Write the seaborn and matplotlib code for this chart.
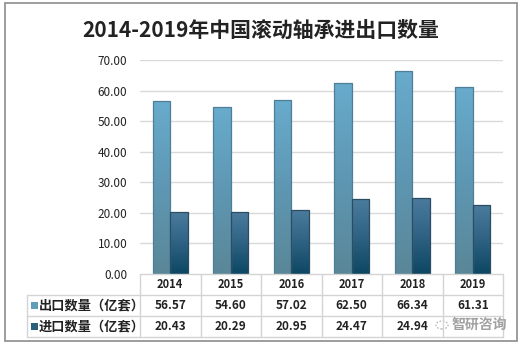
import numpy as np
import pandas as pd
import matplotlib
matplotlib.use("Agg")
import matplotlib.pyplot as plt
import seaborn as sns
from matplotlib.lines import Line2D
from matplotlib.patches import Rectangle, Circle
from matplotlib.colors import LinearSegmentedColormap

years = ["2014", "2015", "2016", "2017", "2018", "2019"]
export_vals = [56.57, 54.60, 57.02, 62.50, 66.34, 61.31]
import_vals = [20.43, 20.29, 20.95, 24.47, 24.94, 22.62]
series_names = ["出口数量（亿套）", "进口数量（亿套）"]
yticks = [0, 10, 20, 30, 40, 50, 60, 70]
title = "2014-2019年中国滚动轴承进出口数量"
watermark = "智研咨询"

sns.set_theme(style="white")
plt.rcParams['font.family'] = ['Noto Sans CJK SC', 'DejaVu Sans']

W, H = 522, 345
fig = plt.figure(figsize=(W / 100, H / 100), dpi=100)

def fx(x):
    return x / W

def fy(y):
    return 1 - y / H

ax_l, ax_r, ax_t, ax_b = 140, 503, 60, 274
ax = fig.add_axes([fx(ax_l), fy(ax_b), fx(ax_r) - fx(ax_l), fy(ax_t) - fy(ax_b)])

df = pd.DataFrame({
    "year": years * 2,
    "value": export_vals + import_vals,
    "series": [series_names[0]] * 6 + [series_names[1]] * 6,
})

sns.barplot(data=df, x="year", y="value", hue="series", order=years,
            hue_order=series_names, width=0.58, gap=0, ax=ax, legend=False,
            palette=["#66a9c9", "#2f6a8a"])

ax.set_ylim(0, 70)
ax.set_xlim(-0.5, 5.5)
ax.set_yticks(yticks)
ax.set_yticklabels([f"{v:.2f}" for v in yticks], fontsize=8.5, color="#222222")
ax.tick_params(axis="y", length=0, pad=9)
ax.set_xticks([])
ax.set_xlabel("")
ax.set_ylabel("")
for s in ax.spines.values():
    s.set_visible(False)
for v in yticks[1:]:
    ax.axhline(v, color="#d9d9d9", lw=1, zorder=0)

cm_exp = LinearSegmentedColormap.from_list("e", ["#5a8798", "#5e97b3", "#68abcc"])
cm_imp = LinearSegmentedColormap.from_list("i", ["#0d4762", "#2f6283", "#4b7c9d"])
edges = ["#4f7f96", "#2a4d63"]
grad = np.linspace(0, 1, 100).reshape(-1, 1)
patches = list(ax.patches)
for i, p in enumerate(patches):
    k = 0 if i < 6 else 1
    x0, y0 = p.get_x(), p.get_y()
    w, h = p.get_width(), p.get_height()
    p.set_facecolor("none")
    p.set_edgecolor(edges[k])
    p.set_linewidth(0.9)
    p.set_zorder(3)
    im = ax.imshow(grad, cmap=cm_exp if k == 0 else cm_imp, origin="lower",
                   extent=[x0, x0 + w, y0, y0 + h], aspect="auto", zorder=2)
    im.set_clip_path(p)
ax.set_xlim(-0.5, 5.5)
ax.set_ylim(0, 70)

# Outer border
fig.patches.append(Rectangle((fx(5), fy(341)), fx(517) - fx(5), fy(3) - fy(341),
                             transform=fig.transFigure, fill=False,
                             edgecolor="#8c8c8c", lw=1.2))

fig.text(0.5, fy(30), title, ha="center", va="center", fontsize=15,
         fontweight="bold", color="#222222")

# Table
lc = "#d4d4d4"
col_w = (ax_r - ax_l) / 6
tab_l = 27
def hline(y, x0, x1):
    fig.add_artist(Line2D([fx(x0), fx(x1)], [fy(y), fy(y)], color=lc, lw=1,
                          transform=fig.transFigure))
def vline(x, y0, y1):
    fig.add_artist(Line2D([fx(x), fx(x)], [fy(y0), fy(y1)], color=lc, lw=1,
                          transform=fig.transFigure))
hline(274, ax_l, ax_r)
hline(295, tab_l, ax_r)
hline(316, tab_l, ax_r)
hline(337, tab_l, ax_r)
for j in range(7):
    vline(ax_l + j * col_w, 274, 337)
vline(tab_l, 295, 337)

for j, yr in enumerate(years):
    cx = ax_l + (j + 0.5) * col_w
    fig.text(fx(cx), fy(284.5), yr, ha="center", va="center", fontsize=8,
             fontweight="bold", color="#222222")
    fig.text(fx(cx), fy(305.5), f"{export_vals[j]:.2f}", ha="center", va="center",
             fontsize=8.5, fontweight="bold", color="#222222")
    if j < 5:  # the 2019 import value is hidden under the watermark in the reference
        fig.text(fx(cx), fy(326.5), f"{import_vals[j]:.2f}", ha="center", va="center",
                 fontsize=8.5, fontweight="bold", color="#222222")

sq_colors = ["#5f9dbb", "#2a5e7c"]
for r, (name, yc) in enumerate(zip(series_names, [305.5, 326.5])):
    fig.patches.append(Rectangle((fx(31), fy(yc + 3.5)), fx(38) - fx(31), fy(yc - 3.5) - fy(yc + 3.5),
                                 transform=fig.transFigure, facecolor=sq_colors[r],
                                 edgecolor="none"))
    fig.text(fx(39), fy(yc), name, ha="left", va="center", fontsize=9.5,
             fontweight="bold", color="#222222")

# Watermark
fig.patches.append(Rectangle((fx(440), fy(336)), fx(506) - fx(440), fy(315) - fy(336),
                             transform=fig.transFigure, facecolor="white",
                             edgecolor="none", alpha=0.85))
fig.patches.append(Circle((fx(442), fy(325)), 6 / W, transform=fig.transFigure,
                          fill=False, edgecolor="#aaaaaa", lw=0.8, ls=(0, (1.5, 1.5))))
fig.text(fx(452), fy(325), watermark, ha="left", va="center", fontsize=10,
         color="#a0a0a0", fontweight="bold")

fig.savefig("out.png", dpi=100)
